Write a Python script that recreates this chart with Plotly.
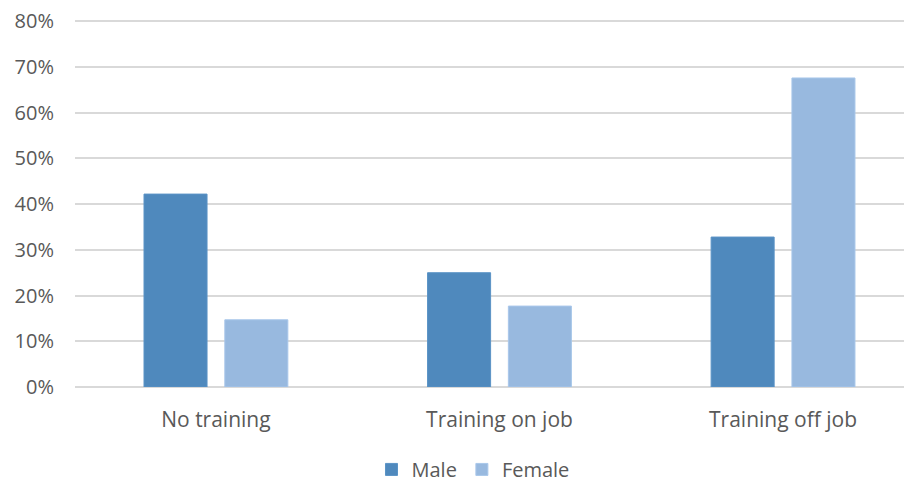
import plotly.graph_objects as go

# === Datos ===
categorias = ["No training", "Training on job", "Training off job"]
male = [42.2, 25.0, 32.8]
female = [14.7, 17.7, 67.6]
y_ticks = [0, 10, 20, 30, 40, 50, 60, 70, 80]
y_labels = [f"{v}%" for v in y_ticks]

color_male = "#4F89BD"
color_female = "#98B9DF"
gris = "#595959"
fuente = "Open Sans"

fig = go.Figure()
fig.add_trace(go.Bar(
    x=categorias, y=male, name="Male",
    marker=dict(color=color_male, line=dict(color="#5B93C6", width=1))
))
fig.add_trace(go.Bar(
    x=categorias, y=female, name="Female",
    marker=dict(color=color_female, line=dict(color="#A9C7EA", width=1))
))

# la página añade 8px de margen al body, se compensa aquí
fig.update_layout(
    width=912, height=482,
    margin=dict(l=67, r=0, t=11, b=103, autoexpand=False),
    plot_bgcolor="white", paper_bgcolor="white",
    barmode="group", bargap=0.43, bargroupgap=0.22,
    font=dict(family=fuente, size=21, color=gris),
    showlegend=True,
    legend=dict(orientation="h", x=0.471, xanchor="center", y=-0.224, yanchor="middle",
                font=dict(size=20, color=gris), itemwidth=30, traceorder="normal"),
    hovermode=False,
)
fig.update_xaxes(
    range=[-0.497, 2.483], showgrid=False, zeroline=False, showline=False,
    ticks="", ticklabelstandoff=18, tickfont=dict(size=21, color=gris),
)
fig.update_yaxes(
    range=[0, 80.5], tickvals=y_ticks, ticktext=y_labels,
    showgrid=True, gridcolor="#D9D9D9", gridwidth=1.5,
    zeroline=True, zerolinecolor="#D9D9D9", zerolinewidth=1.5,
    showline=False, ticks="", ticklabelstandoff=20, ticklabeloverflow="allow",
    tickfont=dict(size=20, color=gris),
)

fig.write_html("out.html")
